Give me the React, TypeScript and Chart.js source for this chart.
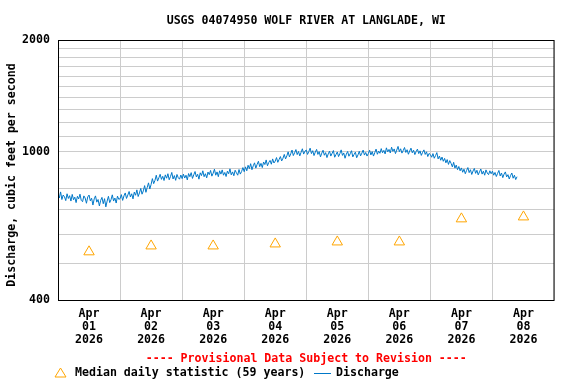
import { useEffect, useRef } from "react";
import { Chart, registerables } from "chart.js";

Chart.register(...registerables);

const TITLE = "USGS 04074950 WOLF RIVER AT LANGLADE, WI";
const Y_TITLE = "Discharge, cubic feet per second";
const PROVISIONAL = "---- Provisional Data Subject to Revision ----";
const LEGEND_MEDIAN = "Median daily statistic (59 years)";
const LEGEND_DISCHARGE = "Discharge";

const DAY_LABELS = [
  ["Apr", "01", "2026"],
  ["Apr", "02", "2026"],
  ["Apr", "03", "2026"],
  ["Apr", "04", "2026"],
  ["Apr", "05", "2026"],
  ["Apr", "06", "2026"],
  ["Apr", "07", "2026"],
  ["Apr", "08", "2026"],
];
const DAY_HOURS = [0, 24, 48, 72, 96, 120, 144, 168, 192];
const Y_MIN = 400;
const Y_MAX = 2000;
const Y_LABELED = [400, 1000, 2000];
const Y_GRID = [400, 500, 600, 700, 800, 900, 1000, 1100, 1200, 1300, 1400, 1500, 1600, 1700, 1800, 1900, 2000];

// median daily statistic, plotted at noon of each day (hours since Apr 01 00:00)
const MEDIAN_HOURS = [12, 36, 60, 84, 108, 132, 156, 180];
const MEDIAN_VALUES = [539, 559, 559, 566, 573, 573, 661, 669];

// half-hourly discharge, starting Apr 01 00:00
const DISCHARGE_STEP_HOURS = 0.5;
const DISCHARGE = [
  770, 752, 781, 745, 766, 758, 740, 772, 750, 763, 738, 769, 744, 756, 731, 760, 748, 770, 741, 735, 762, 752, 728, 757,
  766, 739, 751, 720, 748, 762, 733, 745, 716, 741, 755, 726, 749, 712, 738, 760, 731, 744, 767, 738, 752, 729, 761, 746,
  749, 768, 741, 762, 776, 750, 766, 783, 757, 772, 748, 780, 765, 791, 759, 776, 798, 770, 786, 812, 779, 803, 826, 795,
  818, 848, 822, 839, 866, 835, 852, 871, 844, 860, 838, 868, 850, 874, 842, 859, 881, 846, 864, 839, 870, 853, 845, 867,
  848, 872, 851, 866, 841, 875, 858, 880, 849, 868, 886, 857, 871, 845, 879, 864, 890, 858, 874, 852, 883, 869, 892, 861,
  877, 899, 866, 884, 858, 890, 872, 895, 866, 881, 859, 888, 874, 901, 868, 884, 863, 893, 879, 866, 897, 872, 886, 908,
  885, 912, 890, 921, 902, 930, 896, 918, 935, 905, 926, 944, 913, 932, 908, 940, 925, 952, 918, 937, 949, 927, 958, 934,
  945, 966, 938, 955, 972, 946, 962, 985, 958, 976, 1001, 970, 989, 1012, 978, 995, 1015, 984, 1003, 976, 998, 1020, 987, 1005,
  1012, 985, 1003, 1024, 990, 1008, 978, 999, 1016, 985, 1002, 970, 993, 1011, 980, 996, 966, 988, 1005, 975, 992, 1009, 968, 984,
  1000, 972, 990, 1013, 979, 994, 962, 987, 1003, 974, 989, 1008, 970, 985, 999, 965, 982, 1004, 976, 993, 1012, 981, 997, 975,
  990, 1011, 982, 1002, 975, 996, 1018, 986, 1005, 992, 1021, 995, 1010, 988, 1026, 1001, 1016, 994, 1030, 1004, 1019, 990, 1012, 1035,
  1002, 1020, 993, 1009, 1028, 997, 1014, 986, 1006, 1024, 995, 1011, 984, 1003, 1018, 990, 1007, 979, 998, 1013, 985, 1001, 972, 991,
  984, 968, 990, 962, 978, 996, 958, 975, 950, 969, 944, 961, 935, 954, 926, 948, 932, 912, 938, 905, 922, 896, 914, 890,
  906, 882, 899, 874, 892, 908, 880, 896, 870, 889, 903, 876, 893, 868, 884, 900, 872, 888, 866, 895, 878, 869, 890, 874,
  888, 866, 881, 859, 876, 892, 862, 878, 853, 872, 884, 857, 869, 846, 864, 878, 850, 866, 843, 858,
];

const FONT_FAMILY = "'DejaVu Sans Mono', monospace";
const FONT_SIZE = 11.6;
const BLUE = "#0078c8";
const ORANGE = "#ffa500";

const decorPlugin = {
  id: "decor",
  afterDraw(chart: any) {
    const { ctx, chartArea } = chart;
    const cx = (chartArea.left + chartArea.right) / 2;
    ctx.save();
    ctx.strokeStyle = "#000";
    ctx.lineWidth = 1;
    ctx.strokeRect(chartArea.left + 0.5, chartArea.top + 0.5, chartArea.right - chartArea.left - 1, chartArea.bottom - chartArea.top);
    ctx.font = `bold ${FONT_SIZE}px ${FONT_FAMILY}`;
    ctx.fillStyle = "#000";
    ctx.textBaseline = "middle";
    ctx.textAlign = "center";
    ctx.fillText(TITLE, cx, 21);
    ctx.fillStyle = "#ff0000";
    ctx.fillText(PROVISIONAL, cx, 359);
    ctx.save();
    ctx.translate(12, 175);
    ctx.rotate(-Math.PI / 2);
    ctx.fillStyle = "#000";
    ctx.fillText(Y_TITLE, 0, 0);
    ctx.restore();
    // legend
    const ly = 373;
    ctx.strokeStyle = ORANGE;
    ctx.lineWidth = 1;
    ctx.beginPath();
    ctx.moveTo(60.5, ly - 5);
    ctx.lineTo(66, ly + 4);
    ctx.lineTo(55, ly + 4);
    ctx.closePath();
    ctx.stroke();
    ctx.fillStyle = "#000";
    ctx.textAlign = "left";
    ctx.fillText(LEGEND_MEDIAN, 75, ly);
    ctx.strokeStyle = BLUE;
    ctx.beginPath();
    ctx.moveTo(314, ly + 0.5);
    ctx.lineTo(331, ly + 0.5);
    ctx.stroke();
    ctx.fillText(LEGEND_DISCHARGE, 336, ly);
    ctx.restore();
  },
};

export default function App() {
  const ref = useRef<HTMLCanvasElement | null>(null);
  useEffect(() => {
    if (!ref.current) return;
    const tickFont = { family: FONT_FAMILY, size: FONT_SIZE, weight: "bold" as const, lineHeight: 1.14 };
    const chart = new Chart(ref.current, {
      type: "line",
      data: {
        datasets: [
          {
            label: LEGEND_DISCHARGE,
            data: DISCHARGE.map((v, i) => ({ x: i * DISCHARGE_STEP_HOURS, y: v })),
            borderColor: BLUE,
            borderWidth: 1,
            pointRadius: 0,
            tension: 0,
            xAxisID: "x",
            yAxisID: "y",
          },
          {
            label: LEGEND_MEDIAN,
            data: MEDIAN_HOURS.map((h, i) => ({ x: h, y: MEDIAN_VALUES[i] })),
            showLine: false,
            pointStyle: "triangle",
            pointRadius: 6,
            pointBorderWidth: 1,
            pointBorderColor: ORANGE,
            pointBackgroundColor: "rgba(255,255,255,0)",
            borderColor: ORANGE,
            xAxisID: "x",
            yAxisID: "y",
          },
        ],
      },
      options: {
        animation: false,
        responsive: false,
        maintainAspectRatio: false,
        layout: { padding: { top: 40, right: 21.5, bottom: 0, left: 0 } },
        plugins: { legend: { display: false }, title: { display: false }, tooltip: { enabled: false } },
        scales: {
          x: {
            type: "linear",
            position: "bottom",
            min: DAY_HOURS[0],
            max: DAY_HOURS[DAY_HOURS.length - 1],
            weight: 0,
            afterBuildTicks: (s: any) => {
              s.ticks = DAY_HOURS.map((v) => ({ value: v }));
            },
            afterFit: (s: any) => {
              s.height = 0;
            },
            ticks: { display: false },
            grid: { color: "#cccccc", lineWidth: 1, drawTicks: false },
            border: { display: false },
          },
          xl: {
            type: "category",
            position: "bottom",
            labels: DAY_LABELS as any,
            offset: true,
            weight: 1,
            afterFit: (s: any) => {
              s.height = 84;
            },
            grid: { display: false, drawTicks: false },
            border: { display: false },
            ticks: { color: "#000", font: tickFont, padding: 7, maxRotation: 0, autoSkip: false },
          },
          y: {
            type: "logarithmic",
            min: Y_MIN,
            max: Y_MAX,
            afterBuildTicks: (s: any) => {
              s.ticks = Y_GRID.map((v) => ({ value: v }));
            },
            afterFit: (s: any) => {
              s.width = 58;
            },
            grid: { color: "#cccccc", lineWidth: 1, drawTicks: false },
            border: { display: false },
            ticks: {
              color: "#000",
              font: tickFont,
              padding: 8,
              autoSkip: false,
              callback: (v: any) => (Y_LABELED.includes(Number(v)) ? String(v) : ""),
            },
          },
        },
      },
      plugins: [decorPlugin],
    });
    return () => chart.destroy();
  }, []);
  return (
    <div style={{ position: "fixed", left: 0, top: 0, width: 576, height: 384, background: "#fff" }}>
      <canvas ref={ref} width={576} height={384} style={{ width: 576, height: 384, display: "block" }} />
    </div>
  );
}
